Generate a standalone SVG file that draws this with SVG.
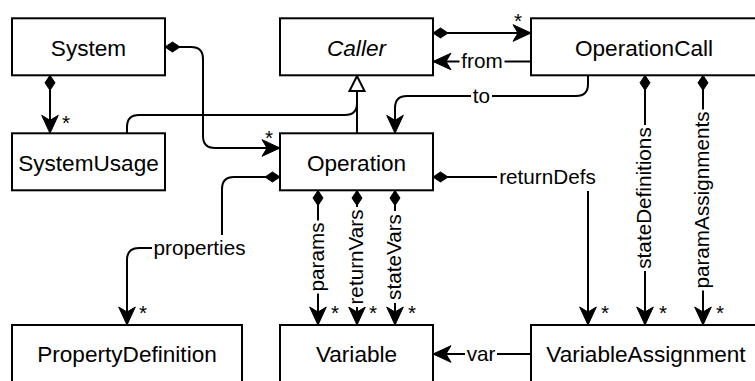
<svg xmlns="http://www.w3.org/2000/svg" width="755" height="381" viewBox="0 0 755 381">
  <defs>
    <style>
      .box{fill:#fff;stroke:#000;stroke-width:2}
      .name{font-family:"Liberation Sans",Arial,Helvetica,sans-serif;font-size:22.6px;text-anchor:middle;fill:#000}
      .abstract{font-style:italic}
      .edge{fill:none;stroke:#000;stroke-width:2}
      .comp{marker-start:url(#diamond)}
      .nav{marker-end:url(#arrow)}
      .lbl{font-family:"Liberation Sans",Arial,Helvetica,sans-serif;font-size:20.7px;text-anchor:middle;fill:#000}
      .bg{fill:#fff}
    </style>
    <!-- open navigable end: classic notched arrowhead -->
    <marker id="arrow" markerUnits="userSpaceOnUse" viewBox="-20 -10 22 20" markerWidth="22" markerHeight="20" refX="0" refY="0" orient="auto">
      <path d="M0,0 L-18,-8.3 L-13,0 L-18,8.3 Z" fill="#000" stroke="#000" stroke-width="1" stroke-linejoin="miter"/>
    </marker>
    <!-- composition: filled diamond at the owner -->
    <marker id="diamond" markerUnits="userSpaceOnUse" viewBox="-1 -7 18 14" markerWidth="18" markerHeight="14" refX="0" refY="0" orient="auto">
      <path d="M0,0 L7.5,-5 L15,0 L7.5,5 Z" fill="#000" stroke="#000" stroke-width="1"/>
    </marker>
    <!-- generalization: hollow triangle -->
    <marker id="triangle" markerUnits="userSpaceOnUse" viewBox="-2 -10 19 20" markerWidth="19" markerHeight="20" refX="0" refY="0" orient="auto">
      <path d="M0,-7.5 L15,0 L0,7.5 Z" fill="#fff" stroke="#000" stroke-width="2" stroke-linejoin="miter"/>
    </marker>
  </defs>

  <rect x="0" y="0" width="755" height="381" fill="#fff"/>

  <!-- associations -->
  <g id="connectors">
    <!-- System -> SystemUsage -->
    <path class="edge comp nav" d="M50,75.3 V133.3"/>
    <text class="lbl" x="66" y="130">*</text>

    <!-- System -> Operation -->
    <path class="edge comp nav" d="M165,47 H191 Q203,47 203,59 V136 Q203,148 215,148 H280"/>
    <text class="lbl" x="269" y="145">*</text>

    <!-- SystemUsage / Operation generalize Caller -->
    <path class="edge" d="M127,133.3 V127 Q127,115 139,115 H345 Q357,115 357,103 V91"/>
    <path class="edge" d="M357,133.3 V91" marker-end="url(#triangle)"/>

    <!-- Caller -> OperationCall -->
    <path class="edge comp nav" d="M433,33 H531"/>
    <text class="lbl" x="518" y="27.7">*</text>

    <!-- from -->
    <path class="edge nav" d="M531,61.5 H433"/>
    <rect class="bg" x="459.5" y="50" width="45" height="23"/>
    <text class="lbl" x="482" y="68">from</text>

    <!-- to -->
    <path class="edge nav" d="M588,75.3 V84 Q588,96 576,96 H407 Q395,96 395,108 V133.3"/>
    <rect class="bg" x="471" y="85" width="21" height="23"/>
    <text class="lbl" x="481.5" y="102.5">to</text>

    <!-- properties -->
    <path class="edge comp nav" d="M280,177 H234 Q222,177 222,189 V236 Q222,248 210,248 H139 Q127,248 127,260 V325"/>
    <rect class="bg" x="152" y="235" width="95" height="24"/>
    <text class="lbl" x="199.5" y="254.5">properties</text>
    <text class="lbl" x="143" y="320">*</text>

    <!-- params -->
    <path class="edge comp nav" d="M318,190.5 V325"/>
    <g transform="translate(318,257) rotate(-90)">
      <rect class="bg" x="-36.5" y="-11" width="73" height="22"/>
      <text class="lbl" x="0" y="5.5">params</text>
    </g>
    <text class="lbl" x="335" y="320">*</text>

    <!-- returnVars -->
    <path class="edge comp nav" d="M357,190.5 V325"/>
    <g transform="translate(357,257) rotate(-90)">
      <rect class="bg" x="-50" y="-11" width="100" height="22"/>
      <text class="lbl" x="0" y="5.5">returnVars</text>
    </g>
    <text class="lbl" x="373" y="320">*</text>

    <!-- stateVars -->
    <path class="edge comp nav" d="M395,190.5 V325"/>
    <g transform="translate(395,257) rotate(-90)">
      <rect class="bg" x="-46" y="-11" width="92" height="22"/>
      <text class="lbl" x="0" y="5.5">stateVars</text>
    </g>
    <text class="lbl" x="412" y="320">*</text>

    <!-- returnDefs -->
    <path class="edge comp nav" d="M433,177 H576 Q588,177 588,189 V325"/>
    <rect class="bg" x="497" y="165" width="103" height="26"/>
    <text class="lbl" x="547.5" y="183.5">returnDefs</text>
    <text class="lbl" x="605" y="320">*</text>

    <!-- stateDefinitions -->
    <path class="edge comp nav" d="M645,75.3 V325"/>
    <g transform="translate(645,198) rotate(-90)">
      <rect class="bg" x="-73" y="-11" width="146" height="22"/>
      <text class="lbl" x="0" y="5.5">stateDefinitions</text>
    </g>
    <text class="lbl" x="663" y="320">*</text>

    <!-- paramAssignments -->
    <path class="edge comp nav" d="M703,75.3 V325"/>
    <g transform="translate(703,200) rotate(-90)">
      <rect class="bg" x="-90.5" y="-11" width="181" height="22"/>
      <text class="lbl" x="0" y="5.5">paramAssignments</text>
    </g>
    <text class="lbl" x="720" y="320">*</text>

    <!-- var -->
    <path class="edge nav" d="M531,354 H433"/>
    <rect class="bg" x="465" y="342" width="32" height="24"/>
    <text class="lbl" x="481" y="360.5">var</text>
  </g>

  <!-- classes -->
  <g id="System">
    <rect class="box" x="12" y="18.3" width="153" height="57"/>
    <text class="name" x="88.5" y="55.5">System</text>
  </g>
  <g id="Caller">
    <rect class="box" x="280" y="18.3" width="153" height="57"/>
    <text class="name abstract" x="356.5" y="55.5">Caller</text>
  </g>
  <g id="OperationCall">
    <rect class="box" x="531" y="18.3" width="230" height="57"/>
    <text class="name" x="644" y="55.5">OperationCall</text>
  </g>
  <g id="SystemUsage">
    <rect class="box" x="12" y="133.3" width="153" height="57"/>
    <text class="name" x="88.5" y="170.5">SystemUsage</text>
  </g>
  <g id="Operation">
    <rect class="box" x="280" y="133.3" width="153" height="57"/>
    <text class="name" x="356.5" y="170.5">Operation</text>
  </g>
  <g id="PropertyDefinition">
    <rect class="box" x="12" y="325" width="230" height="62"/>
    <text class="name" x="127" y="362">PropertyDefinition</text>
  </g>
  <g id="Variable">
    <rect class="box" x="280" y="325" width="153" height="62"/>
    <text class="name" x="356.5" y="362">Variable</text>
  </g>
  <g id="VariableAssignment">
    <rect class="box" x="531" y="325" width="230" height="62"/>
    <text class="name" x="646" y="362">VariableAssignment</text>
  </g>
</svg>
